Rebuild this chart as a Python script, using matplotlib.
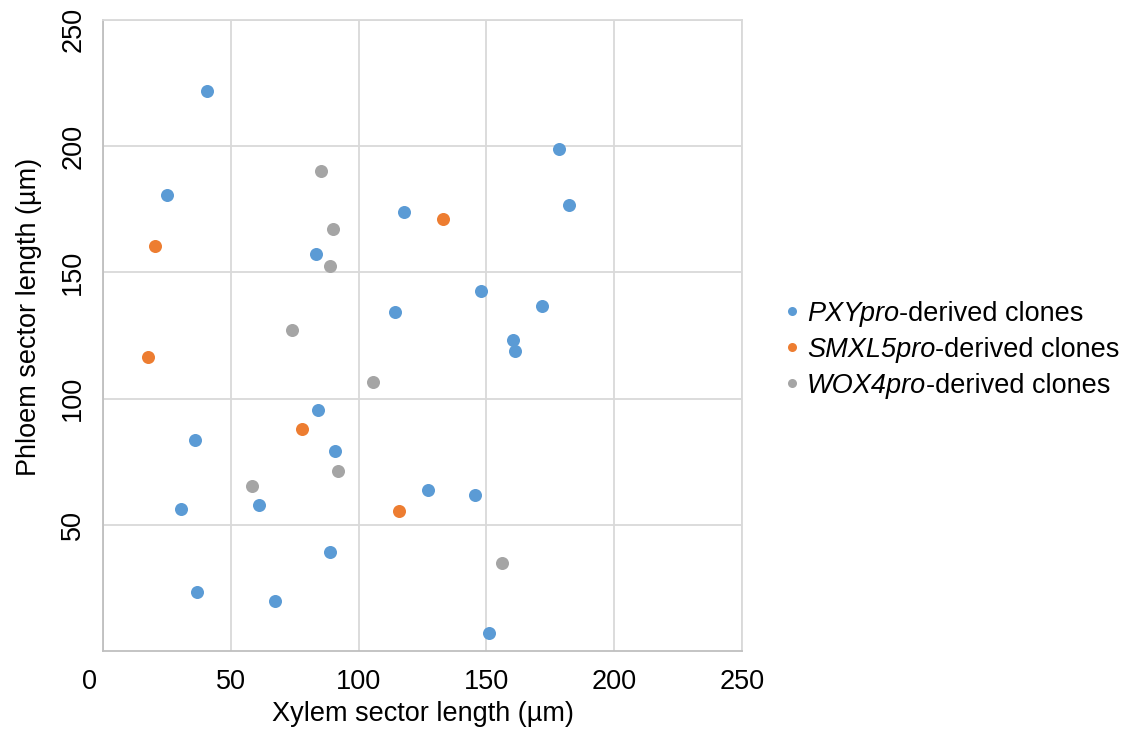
import matplotlib
matplotlib.use("Agg")
import matplotlib.pyplot as plt
import matplotlib.transforms as mtransforms
from matplotlib.lines import Line2D

plt.rcParams['font.family'] = ['Liberation Sans', 'DejaVu Sans']

# --------------------------------------------------
# Data
# --------------------------------------------------

pxy_x = [40.6, 25.0, 178.5, 182.4, 117.6, 83.2, 147.7, 114.1, 171.9, 160.2, 161.3,
         84.0, 35.9, 90.6, 127.0, 145.7, 30.5, 60.9, 88.7, 36.7, 67.2, 151.2]
pxy_y = [221.9, 180.7, 198.9, 176.7, 173.9, 157.3, 142.6, 134.3, 136.7, 123.2, 118.9,
         95.5, 83.6, 79.2, 63.8, 61.8, 56.3, 57.8, 39.2, 23.4, 19.8, 7.1]

smxl5_x = [20.3, 17.6, 133.2, 77.7, 115.6]
smxl5_y = [160.5, 116.5, 171.2, 88.0, 55.5]

wox4_x = [85.2, 89.8, 88.7, 73.8, 105.5, 58.2, 91.8, 155.9]
wox4_y = [190.2, 167.2, 152.5, 127.2, 106.6, 65.4, 71.3, 34.9]

promoters = ["PXYpro", "SMXL5pro", "WOX4pro"]
suffix = "-derived clones"
colors = ["#5B9BD5", "#ED7D31", "#A5A5A5"]

x_ticks = [0, 50, 100, 150, 200, 250]
y_ticks = [50, 100, 150, 200, 250]

FS = 19.5

# --------------------------------------------------
# Plot
# --------------------------------------------------

fig = plt.figure(figsize=(11.26, 7.29), dpi=100)
ax = fig.add_axes([0.0915, 0.107, 0.5675, 0.8656])

series = [(pxy_x, pxy_y), (smxl5_x, smxl5_y), (wox4_x, wox4_y)]
for (xs, ys), col in zip(series, colors):
    ax.scatter(xs, ys, s=88, color=col, zorder=3, linewidths=0)

ax.set_xlim(0, 250)
ax.set_ylim(0, 250)
ax.set_xticks(x_ticks)
ax.set_yticks(y_ticks)
ax.grid(True, color="#D9D9D9", linewidth=1.3)
ax.set_axisbelow(True)
for sp in ax.spines.values():
    sp.set_color("#D9D9D9")
    sp.set_linewidth(1.3)
ax.spines['bottom'].set_color("#BFBFBF")
ax.spines['left'].set_color("#BFBFBF")

ax.tick_params(axis='both', length=0, labelsize=FS)
ax.tick_params(axis='x', pad=13)
ax.tick_params(axis='y', pad=12)
for t in ax.get_yticklabels():
    t.set_rotation(90)
    t.set_va('center')

# Excel nudges the end labels inward
lab0 = ax.get_xticklabels()[0]
lab0.set_transform(lab0.get_transform() +
                   mtransforms.ScaledTranslation(-0.14, 0, fig.dpi_scale_trans))
top = ax.get_yticklabels()[-1]
top.set_transform(top.get_transform() +
                  mtransforms.ScaledTranslation(0, -0.09, fig.dpi_scale_trans))

ax.set_xlabel("Xylem sector length (µm)", fontsize=FS, labelpad=4)
ax.set_ylabel("Phloem sector length (µm)", fontsize=FS, labelpad=13, y=0.529)

# legend built by hand so the promoter names (digits too) stay italic
leg_x = 792 / 1126
leg_y0 = 1 - 311 / 729
leg_dy = 36 / 729
for i, (name, col) in enumerate(zip(promoters, colors)):
    y = leg_y0 - i * leg_dy
    fig.add_artist(Line2D([leg_x], [y], marker='o', markersize=6.5, color=col,
                          markeredgewidth=0, linestyle='none',
                          transform=fig.transFigure))
    t1 = fig.text(leg_x + 15 / 1126, y, name, fontsize=FS, style='italic',
                  va='center_baseline', ha='left')
    ax.annotate(suffix, xy=(1, 0), xycoords=t1, fontsize=FS,
                ha='left', va='bottom', annotation_clip=False)

fig.savefig("out.png", dpi=100)
